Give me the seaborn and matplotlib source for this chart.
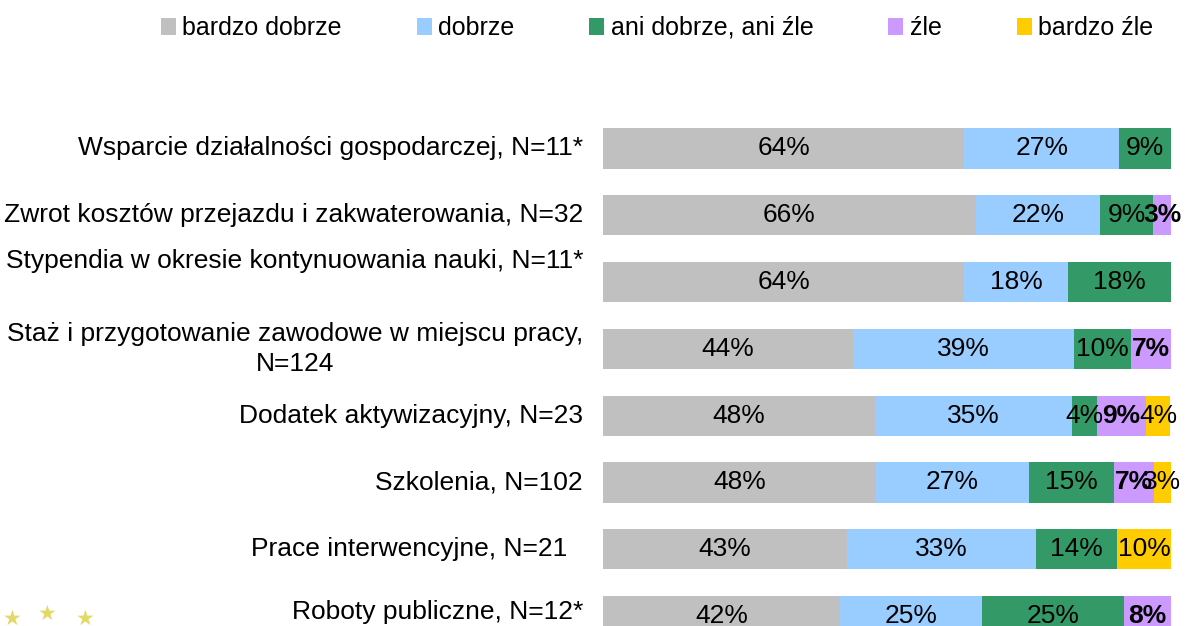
import numpy as np
import seaborn as sns
from matplotlib import pyplot as plt
from matplotlib import transforms
from matplotlib.patches import Patch

categories = ["Wsparcie działalności gospodarczej, N=11*",
              "Zwrot kosztów przejazdu i zakwaterowania, N=32",
              "Stypendia w okresie kontynuowania nauki, N=11*",
              "Staż i przygotowanie zawodowe w miejscu pracy,\nN=124",
              "Dodatek aktywizacyjny, N=23",
              "Szkolenia, N=102",
              "Prace interwencyjne, N=21",
              "Roboty publiczne, N=12*"]

answers = ["bardzo dobrze", "dobrze", "ani dobrze, ani źle", "źle", "bardzo źle"]

bardzo_dobrze = [63.6, 65.6, 63.6, 44.0, 47.8, 48.0, 42.9, 41.7]
dobrze = [27.3, 21.9, 18.2, 39.0, 34.8, 27.0, 33.3, 25.0]
ani_ani = [9.1, 9.4, 18.2, 10.0, 4.3, 15.0, 14.3, 25.0]
zle = [0.0, 3.1, 0.0, 7.0, 8.7, 7.0, 0.0, 8.3]
bardzo_zle = [0.0, 0.0, 0.0, 0.0, 4.3, 3.0, 9.5, 0.0]

colors = ["#C0C0C0", "#99CCFF", "#339966", "#CC99FF", "#FFCC00"]

# label offsets (rows) for the category texts
label_dy = [0, 0, -0.31, 0, 0, 0, 0, -0.06]
label_dx = [0, 0, 0, 0, 0, 0, -0.028, 0]

plt.rcParams['font.family'] = ['Liberation Sans', 'DejaVu Sans']
FS = 19

values = np.array([bardzo_dobrze, dobrze, ani_ani, zle, bardzo_zle])
cum = values.cumsum(axis=0)

fig = plt.figure(figsize=(11.86, 6.26), dpi=100)
ax = fig.add_axes([603 / 1186, 0, (1171 - 603) / 1186, 1])

# stacked bars: draw cumulative totals from the back to the front
for k in range(len(answers) - 1, -1, -1):
    sns.barplot(x=cum[k], y=categories, color=colors[k], orient="h",
                width=0.6, saturation=1, ax=ax)

for i in range(len(categories)):
    start = 0
    for k in range(len(answers)):
        v = values[k, i]
        if v > 0:
            ax.text(start + v / 2, i, f"{v:.0f}%", ha="center", va="center",
                    fontsize=FS, fontweight="bold" if k == 3 else "normal")
        start += v

trans = transforms.blended_transform_factory(ax.transAxes, ax.transData)
for i, cat in enumerate(categories):
    ax.text(-0.035 + label_dx[i], i + label_dy[i], cat, transform=trans,
            ha="right", va="center", multialignment="center",
            fontsize=FS, linespacing=1.3)

ax.set_xlim(0, 100)
ax.set_ylim((626 - 148.5) / 66.8, -148.5 / 66.8)
ax.set_yticks([])
ax.set_xticks([])
ax.set_xlabel("")
ax.set_ylabel("")
sns.despine(ax=ax, left=True, bottom=True)

handles = [Patch(facecolor=c, edgecolor="none") for c in colors]
fig.legend(handles, answers, loc="center", bbox_to_anchor=(657 / 1186, 1 - 28 / 626),
           ncol=5, frameon=False, fontsize=18, handlelength=0.6, handleheight=0.7,
           handletextpad=0.25, columnspacing=3.0)

# bits of the logo in the lower left corner
for x, y in [(12, 619), (47, 614), (85, 619)]:
    fig.text(x / 1186, 1 - y / 626, "★", color="#DDD040", fontsize=15,
             ha="center", va="center", family="DejaVu Sans", alpha=0.8)

fig.savefig("out.png", dpi=100)
